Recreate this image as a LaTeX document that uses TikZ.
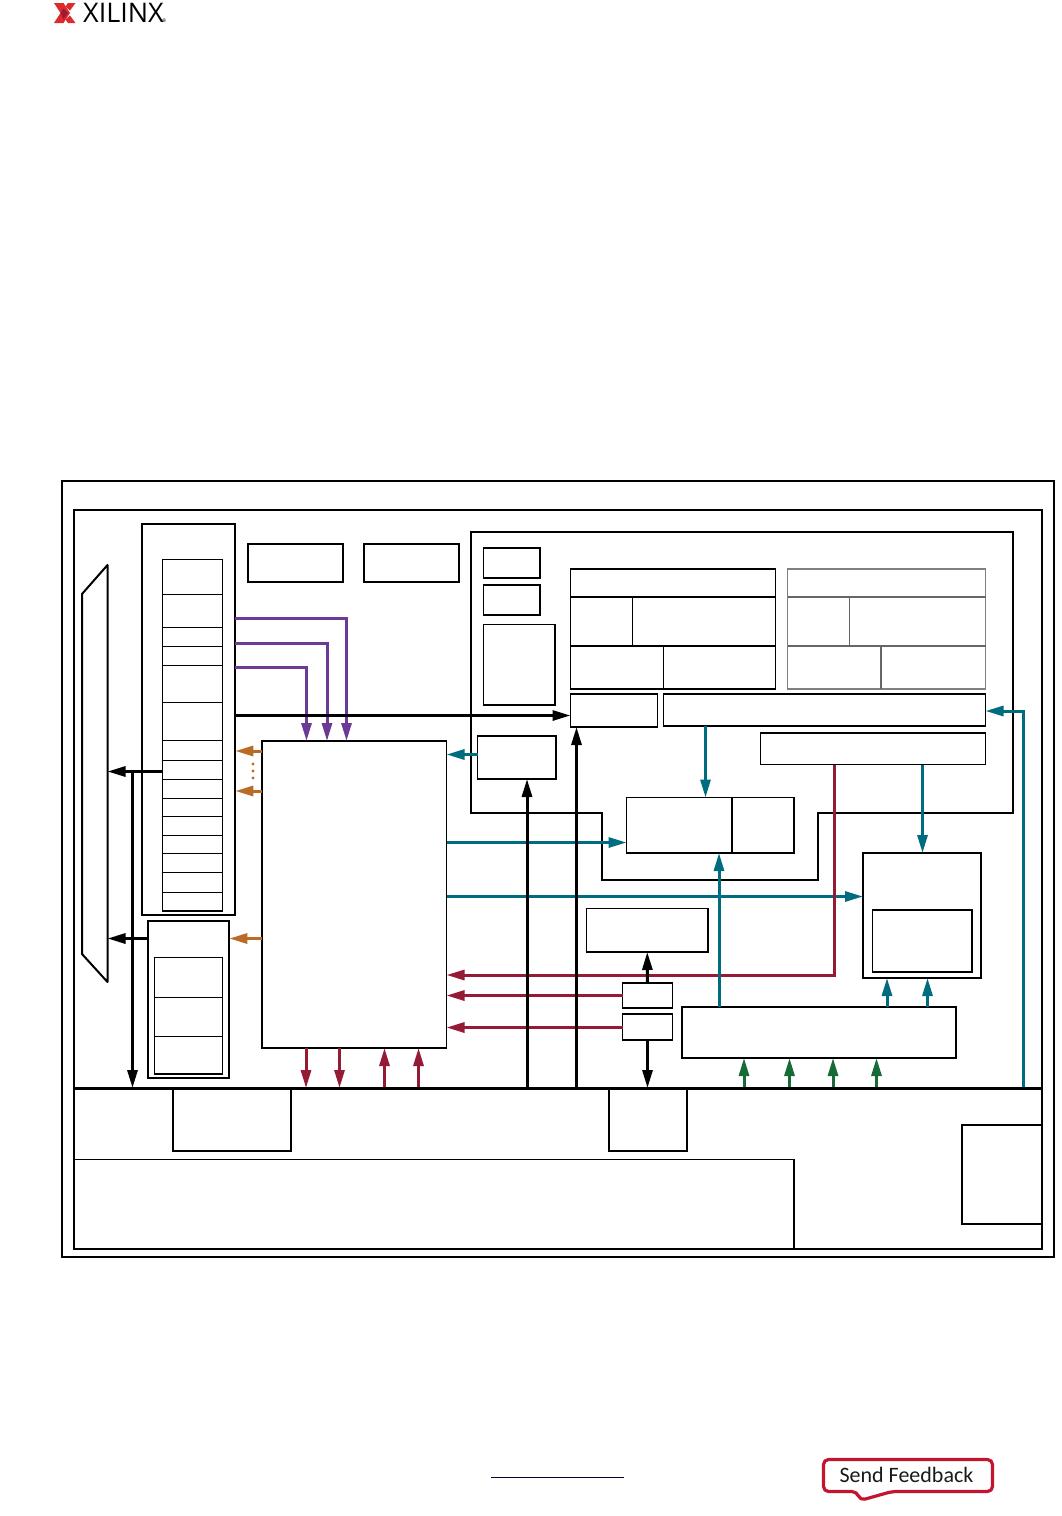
\documentclass[tikz,border=0pt]{standalone}
\usepackage{fontspec}
\setmainfont{Carlito}
\newfontfamily\logofont{Open Sans}
\usetikzlibrary{arrows.meta,fit}
\definecolor{teal1}{HTML}{006C7F}
\definecolor{wine}{HTML}{951A36}
\definecolor{plum}{HTML}{6B3A96}
\definecolor{ochre}{HTML}{B96C27}
\definecolor{leaf}{HTML}{166B37}
\definecolor{fbred}{HTML}{C4152F}
\definecolor{logored}{HTML}{DD2A2F}
\definecolor{logodark}{HTML}{9A1B2F}
\tikzset{
  x=1pt,y=-1pt,
  blk/.style={inner sep=0pt,outer sep=0pt,draw=black},
  heavy/.style={blk,line width=2pt},
  mid/.style={blk,line width=1.6pt},
  thin box/.style={blk,line width=1.1pt},
  ghost/.style={blk,draw=black!50,line width=1.2pt},
  rule/.style={line width=1.1pt},
  ghostrule/.style={line width=1.2pt,draw=black!60},
  tip/.style={-{Triangle[length=18pt,width=10pt]}},
  bus/.style={tip,line width=3pt,draw=black,color=black},
  tealbus/.style={tip,line width=3pt,color=teal1},
  winebus/.style={tip,line width=3pt,color=wine},
  plumbus/.style={tip,line width=3pt,color=plum,line join=miter},
  ochrebus/.style={tip,line width=3pt,color=ochre},
  leafbus/.style={tip,line width=3pt,color=leaf},
}
\newcommand{\bx}[6]{\node[#1,fit={(#3,#4)(#5,#6)}] (#2) {};}
\begin{document}
\begin{tikzpicture}
\useasboundingbox (0,0) rectangle (1062,1516);
% logo
\fill[logored] (54,3) -- (63.5,3) -- (70,13) -- (63.5,23) -- (54,23) -- (60.5,13) -- cycle;
\fill[logored] (75.5,3) -- (68,3) -- (65.5,6.5) -- (70,10.5) -- cycle;
\fill[logored] (75.5,23) -- (68,23) -- (65.5,19.5) -- (70,15.5) -- cycle;
\fill[logodark] (60.5,13) -- (63.5,8.5) -- (68,13) -- (63.5,19) -- cycle;
\node[anchor=base west,inner sep=0pt] (logotext) at (83,22.5) {\logofont\fontsize{27}{27}\selectfont XILINX};
\node[anchor=base west,inner sep=0pt] (logoreg) at (162,22.5) {\logofont\fontsize{5}{5}\selectfont ®};
% frames
\bx{heavy}{outer}{61.5}{481}{1054}{1257}
\bx{heavy}{inner}{74}{510}{1042}{1249}
\coordinate (busL) at (74,1088);
\coordinate (busR) at (1042,1088);
% bottom section
\bx{heavy}{ioa}{173}{1088}{291}{1150.5}
\bx{heavy}{iob}{608.5}{1088}{686.5}{1150.5}
\bx{thin box}{fabric}{74}{1159.5}{794}{1249}
\bx{heavy}{corner}{962}{1125}{1042}{1224}
% mux
\coordinate (muxA) at (82,594);
\coordinate (muxB) at (107.5,565);
\coordinate (muxC) at (107.5,982);
\coordinate (muxD) at (82,954);
\draw[line width=2pt,line join=round] (muxA) -- (muxB) -- (muxC) -- (muxD) -- cycle;
% left stack
\bx{heavy}{stack}{141.7}{524}{235.3}{915}
\bx{thin box}{regs}{162.5}{559.5}{222.7}{911}
\foreach \yy in {594.5,627.5,646.5,665.5,702.5,740.5,760.5,779.5,798.3,816.3,835.3,853.3,872.3,892.3}
  \draw[rule] (regs.west |- 0,\yy) -- (regs.east |- 0,\yy);
\bx{heavy}{bank}{148.3}{921}{229.3}{1078}
\bx{thin box}{bankin}{154.5}{957.3}{222.7}{1074}
\foreach \yy in {997.3,1036.3}
  \draw[rule] (bankin.west |- 0,\yy) -- (bankin.east |- 0,\yy);
\bx{heavy}{topa}{247.5}{544}{343.2}{582}
\bx{heavy}{topb}{363.5}{544}{459}{582}
\bx{mid}{core}{262}{741}{446.5}{1048}
% big notched box
\draw[heavy] (471,532) -- (1013,532) -- (1013,813) -- (818,813) -- (818,880) -- (602,880) -- (602,813) -- (471,813) -- cycle;
\bx{thin box}{sa}{483.5}{548}{540}{578}
\bx{thin box}{sb}{483.5}{585}{540}{615}
\bx{thin box}{sc}{483.5}{624.5}{555}{705}
% table 1
\bx{mid}{tone}{570.5}{569}{775.5}{689}
\draw[rule] (tone.west |- 0,597) -- (tone.east |- 0,597);
\draw[rule] (tone.west |- 0,646) -- (tone.east |- 0,646);
\draw[rule] (632.5,597) -- (632.5,646);
\draw[rule] (663.5,646) -- (663.5,689);
% table 2
\bx{ghost}{ttwo}{787.5}{569}{985.5}{689}
\draw[ghostrule] (ttwo.west |- 0,597) -- (ttwo.east |- 0,597);
\draw[ghostrule] (ttwo.west |- 0,646) -- (ttwo.east |- 0,646);
\draw[ghostrule] (849.5,597) -- (849.5,646);
\draw[ghostrule] (881,646) -- (881,689);
\bx{thin box}{dc}{570.5}{694}{657.5}{727}
\bx{mid}{wide}{663.5}{694}{985.5}{726}
\bx{thin box}{wideb}{760.5}{733}{985.5}{764.5}
\bx{thin box}{irq}{477.5}{736}{556}{779}
\bx{thin box}{mem}{626.5}{797.5}{794}{853}
\draw[rule] (732,797.5) -- (732,853);
\bx{heavy}{right}{863}{853}{981}{978}
\bx{thin box}{rightin}{872.5}{910}{972}{972}
\bx{mid}{lone}{586.5}{908.5}{708}{952}
\bx{thin box}{smalla}{622.5}{983}{672.5}{1008}
\bx{thin box}{smallb}{622.5}{1014}{672.5}{1040}
\bx{heavy}{perif}{681.5}{1007}{955.5}{1058}
% purple
\draw[plumbus] (stack.east |- 0,618) -| (core.north -| 346.5,0);
\draw[plumbus] (stack.east |- 0,643) -| (core.north -| 327,0);
\draw[plumbus] (stack.east |- 0,667.5) -| (core.north -| 306.5,0);
% ochre
\draw[ochrebus] (core.west |- 0,751) -- (stack.east |- 0,751);
\draw[ochrebus] (core.west |- 0,791) -- (stack.east |- 0,791);
\draw[ochrebus] (core.west |- 0,938.5) -- (bank.east |- 0,938.5);
\foreach \yy in {764,771,778}
  \fill[ochre] (253,\yy) circle (1.6);
% teal under the wine line
\draw[tealbus] (irq.west |- 0,754.5) -- (core.east |- 0,754.5);
\draw[tealbus] (core.east |- 0,842.5) -- (mem.west |- 0,842.5);
\draw[tealbus] (core.east |- 0,896.5) -- (right.west |- 0,896.5);
\draw[tealbus] (wide.south -| 705.5,0) -- (mem.north -| 705.5,0);
\draw[tealbus] (wideb.south -| 922.5,0) -- (right.north -| 922.5,0);
\draw[tealbus] (perif.north -| 887,0) -- (right.south -| 887,0);
\draw[tealbus] (perif.north -| 927.5,0) -- (right.south -| 927.5,0);
\draw[tealbus] (busR -| 1023.5,0) |- (wide.east |- 0,711);
% wine
\draw[winebus] (wideb.south -| 834.5,0) |- (core.east |- 0,975);
\draw[winebus] (smalla.west |- 0,995.5) -- (core.east |- 0,995.5);
\draw[winebus] (smallb.west |- 0,1027.5) -- (core.east |- 0,1027.5);
\draw[winebus] (core.south -| 306,0) -- (busL -| 306,0);
\draw[winebus] (core.south -| 339.5,0) -- (busL -| 339.5,0);
\draw[winebus] (busL -| 384.5,0) -- (core.south -| 384.5,0);
\draw[winebus] (busL -| 418.5,0) -- (core.south -| 418.5,0);
% teal over the wine line
\draw[tealbus] (perif.north -| 719,0) -- (mem.south -| 719,0);
% green
\foreach \xx in {744,789.5,833,876.5}
  \draw[leafbus] (busL -| \xx,0) -- (perif.south -| \xx,0);
% black buses
\draw[bus] (stack.east |- 0,715.5) -- (dc.west |- 0,715.5);
\draw[bus] (regs.west |- 0,771.5) -- (muxB |- 0,771.5);
\draw[bus] (bank.west |- 0,938.5) -- (muxB |- 0,938.5);
\draw[bus] (132.5,771.5) -- (busL -| 132.5,0);
\draw[bus] (busL -| 527,0) -- (irq.south -| 527,0);
\draw[bus] (busL -| 576.5,0) -- (dc.south -| 576.5,0);
\draw[bus] (smalla.north) -- (lone.south);
\draw[bus] (smallb.south) -- (iob.north);
\draw[line width=3pt] (busL) -- (busR);
% footer
\coordinate (linkL) at (491,1477);
\coordinate (linkR) at (624,1477);
\draw[line width=1pt,color=black!80!blue] (linkL) -- (linkR);
\node[inner sep=0pt,text=black!90] (feedback) at (906.5,1475) {\fontsize{22}{22}\selectfont Send Feedback};
\draw[fbred,line width=3.2pt,rounded corners=5pt,line join=round]
  (823.5,1459.5) -- (992.5,1459.5) -- (992.5,1491.5) -- (892,1491.5) -- (860,1500.5) -- (857,1491.5) -- (823.5,1491.5) -- cycle;
\end{tikzpicture}
\end{document}
